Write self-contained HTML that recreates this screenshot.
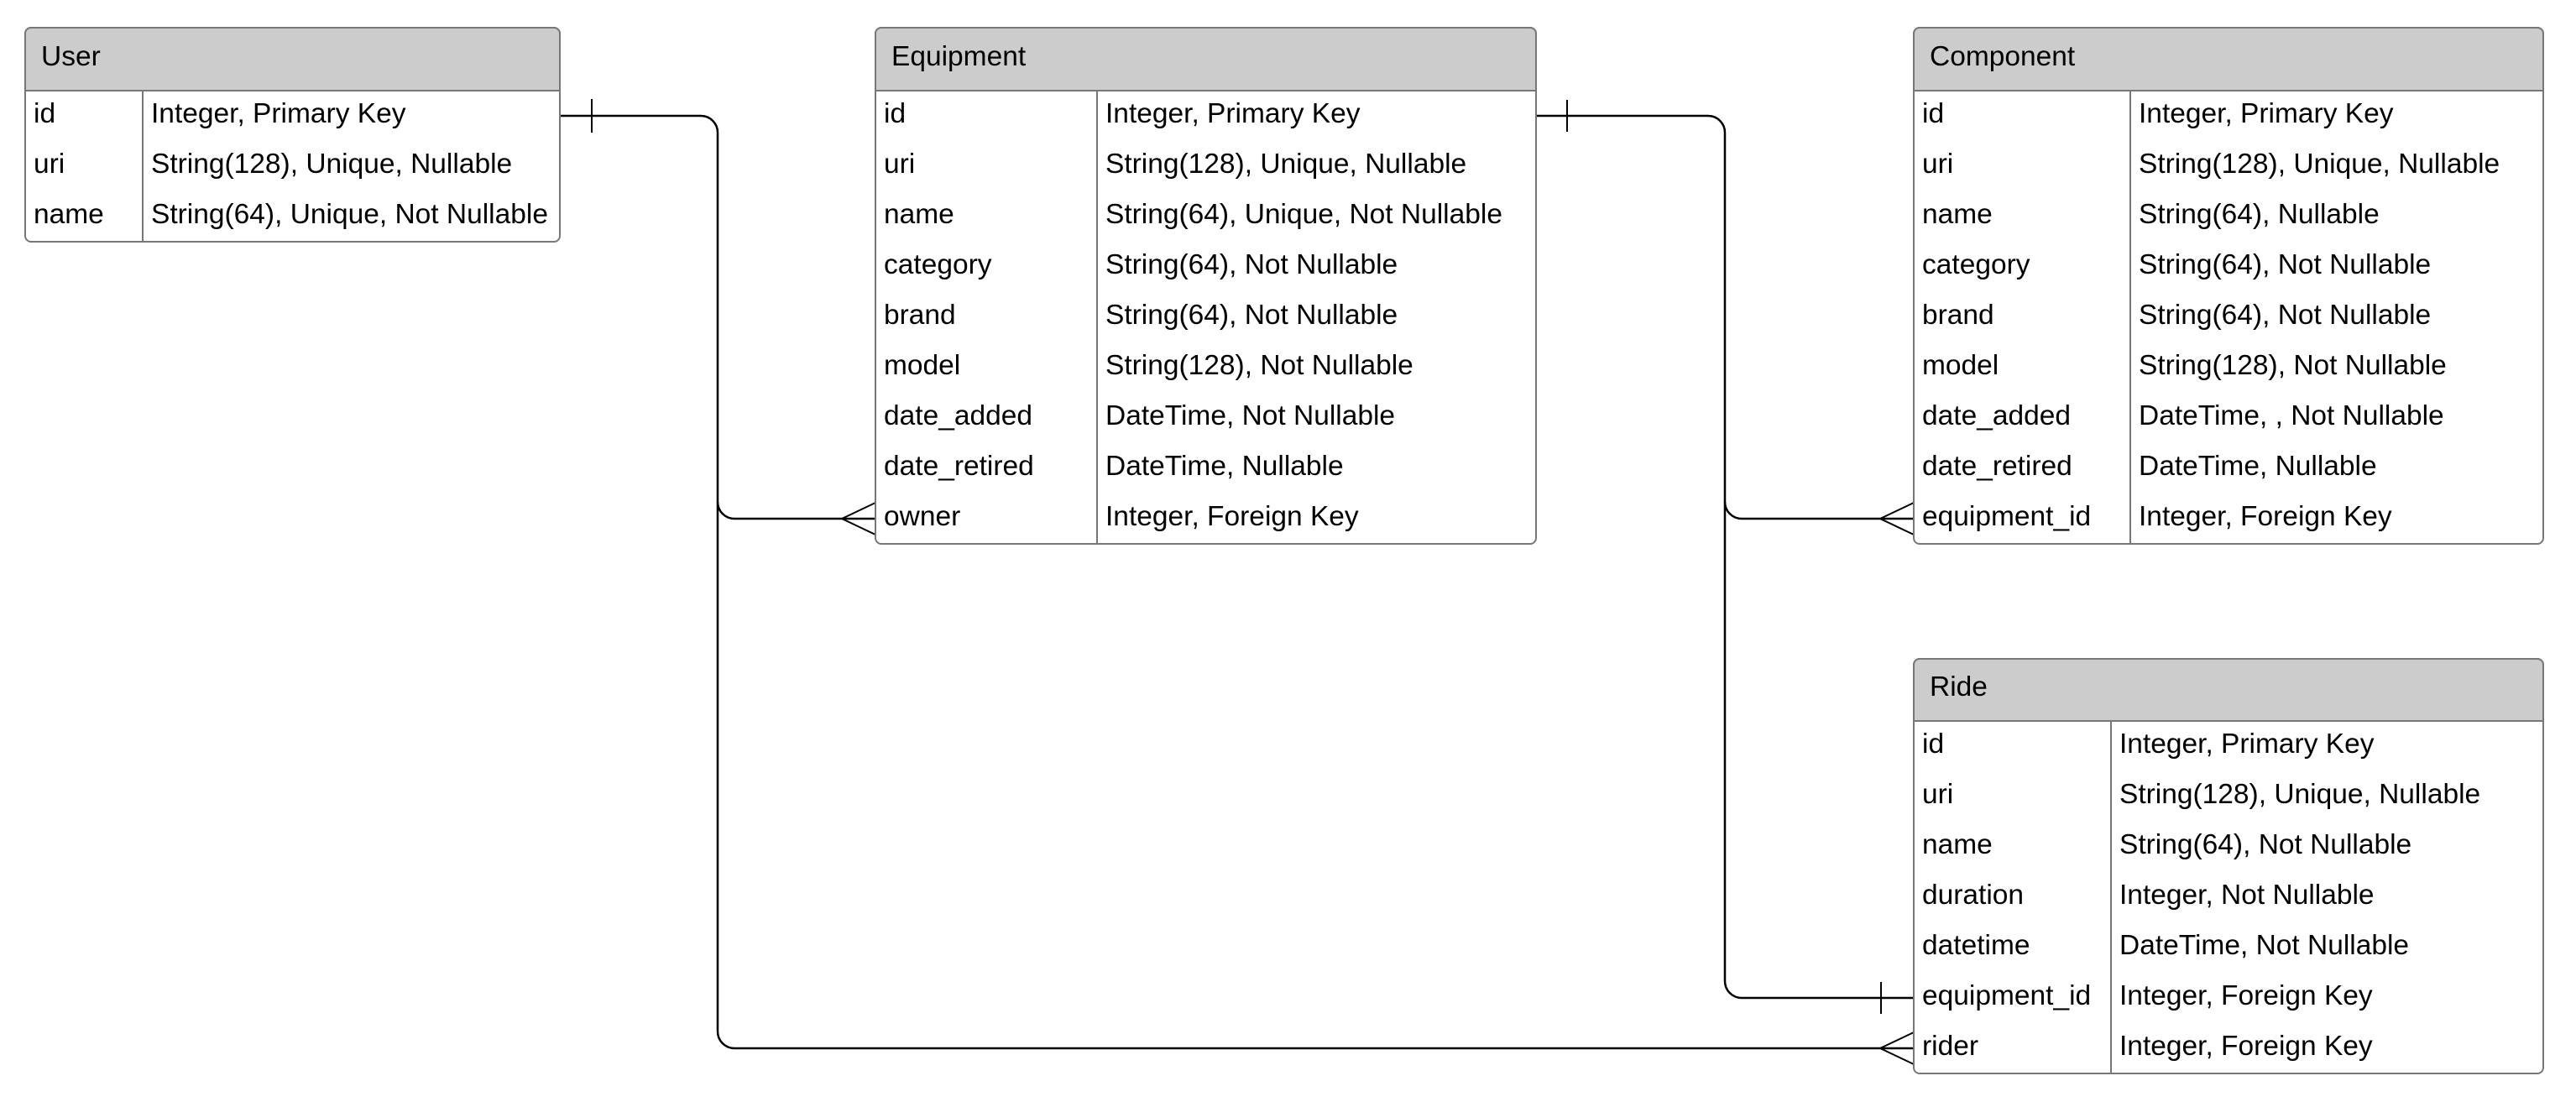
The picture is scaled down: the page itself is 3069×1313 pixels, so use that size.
<!DOCTYPE html>
<html><head><meta charset="utf-8"><style>
html,body{margin:0;padding:0;background:#fff;}
svg{display:block}
text{font-family:"Liberation Sans",sans-serif;font-size:33.5px;fill:#000;}
</style></head><body>
<svg width="3069" height="1313" viewBox="0 0 3069 1313" xmlns="http://www.w3.org/2000/svg">
<g fill="none" stroke="#000" stroke-width="2.5">
<path d="M667 138 H835 A20 20 0 0 1 855 158 V1229 A20 20 0 0 0 875 1249 H2280"/>
<path d="M855 598 A20 20 0 0 0 875 618 H1043"/>
<line x1="705" y1="118" x2="705" y2="158" stroke-width="2"/>
<path d="M1043 599 L1003 618 L1043 637" stroke-width="2"/>
<path d="M2280 1230 L2240 1249 L2280 1268" stroke-width="2"/>
<path d="M1830 138 H2035 A20 20 0 0 1 2055 158 V1169 A20 20 0 0 0 2075 1189 H2280"/>
<path d="M2055 598 A20 20 0 0 0 2075 618 H2280"/>
<line x1="1867" y1="119" x2="1867" y2="157" stroke-width="2"/>
<path d="M2280 599 L2240 618 L2280 637" stroke-width="2"/>
<line x1="2241" y1="1170" x2="2241" y2="1208" stroke-width="2"/>
</g>

<g>
<rect x="30" y="33" width="637" height="255" rx="7" fill="#fff" stroke="#777" stroke-width="2"/>
<path d="M30 108 V40 A7 7 0 0 1 37 33 H660 A7 7 0 0 1 667 40 V108 Z" fill="#ccc" stroke="#777" stroke-width="2"/>
<line x1="170" y1="108" x2="170" y2="288" stroke="#777" stroke-width="2"/>
<text x="49" y="78">User</text>
<text x="40" y="146">id</text><text x="180" y="146">Integer, Primary Key</text>
<text x="40" y="206">uri</text><text x="180" y="206">String(128), Unique, Nullable</text>
<text x="40" y="266">name</text><text x="180" y="266">String(64), Unique, Not Nullable</text>
</g>

<g>
<rect x="1043" y="33" width="787" height="615" rx="7" fill="#fff" stroke="#777" stroke-width="2"/>
<path d="M1043 108 V40 A7 7 0 0 1 1050 33 H1823 A7 7 0 0 1 1830 40 V108 Z" fill="#ccc" stroke="#777" stroke-width="2"/>
<line x1="1307" y1="108" x2="1307" y2="648" stroke="#777" stroke-width="2"/>
<text x="1062" y="78">Equipment</text>
<text x="1053" y="146">id</text><text x="1317" y="146">Integer, Primary Key</text>
<text x="1053" y="206">uri</text><text x="1317" y="206">String(128), Unique, Nullable</text>
<text x="1053" y="266">name</text><text x="1317" y="266">String(64), Unique, Not Nullable</text>
<text x="1053" y="326">category</text><text x="1317" y="326">String(64), Not Nullable</text>
<text x="1053" y="386">brand</text><text x="1317" y="386">String(64), Not Nullable</text>
<text x="1053" y="446">model</text><text x="1317" y="446">String(128), Not Nullable</text>
<text x="1053" y="506">date_added</text><text x="1317" y="506">DateTime, Not Nullable</text>
<text x="1053" y="566">date_retired</text><text x="1317" y="566">DateTime, Nullable</text>
<text x="1053" y="626">owner</text><text x="1317" y="626">Integer, Foreign Key</text>
</g>

<g>
<rect x="2280" y="33" width="750" height="615" rx="7" fill="#fff" stroke="#777" stroke-width="2"/>
<path d="M2280 108 V40 A7 7 0 0 1 2287 33 H3023 A7 7 0 0 1 3030 40 V108 Z" fill="#ccc" stroke="#777" stroke-width="2"/>
<line x1="2538" y1="108" x2="2538" y2="648" stroke="#777" stroke-width="2"/>
<text x="2299" y="78">Component</text>
<text x="2290" y="146">id</text><text x="2548" y="146">Integer, Primary Key</text>
<text x="2290" y="206">uri</text><text x="2548" y="206">String(128), Unique, Nullable</text>
<text x="2290" y="266">name</text><text x="2548" y="266">String(64), Nullable</text>
<text x="2290" y="326">category</text><text x="2548" y="326">String(64), Not Nullable</text>
<text x="2290" y="386">brand</text><text x="2548" y="386">String(64), Not Nullable</text>
<text x="2290" y="446">model</text><text x="2548" y="446">String(128), Not Nullable</text>
<text x="2290" y="506">date_added</text><text x="2548" y="506">DateTime, , Not Nullable</text>
<text x="2290" y="566">date_retired</text><text x="2548" y="566">DateTime, Nullable</text>
<text x="2290" y="626">equipment_id</text><text x="2548" y="626">Integer, Foreign Key</text>
</g>

<g>
<rect x="2280" y="785" width="750" height="494" rx="7" fill="#fff" stroke="#777" stroke-width="2"/>
<path d="M2280 859 V792 A7 7 0 0 1 2287 785 H3023 A7 7 0 0 1 3030 792 V859 Z" fill="#ccc" stroke="#777" stroke-width="2"/>
<line x1="2515" y1="859" x2="2515" y2="1279" stroke="#777" stroke-width="2"/>
<text x="2299" y="829">Ride</text>
<text x="2290" y="897">id</text><text x="2525" y="897">Integer, Primary Key</text>
<text x="2290" y="957">uri</text><text x="2525" y="957">String(128), Unique, Nullable</text>
<text x="2290" y="1017">name</text><text x="2525" y="1017">String(64), Not Nullable</text>
<text x="2290" y="1077">duration</text><text x="2525" y="1077">Integer, Not Nullable</text>
<text x="2290" y="1137">datetime</text><text x="2525" y="1137">DateTime, Not Nullable</text>
<text x="2290" y="1197">equipment_id</text><text x="2525" y="1197">Integer, Foreign Key</text>
<text x="2290" y="1257">rider</text><text x="2525" y="1257">Integer, Foreign Key</text>
</g>
</svg>
</body></html>
